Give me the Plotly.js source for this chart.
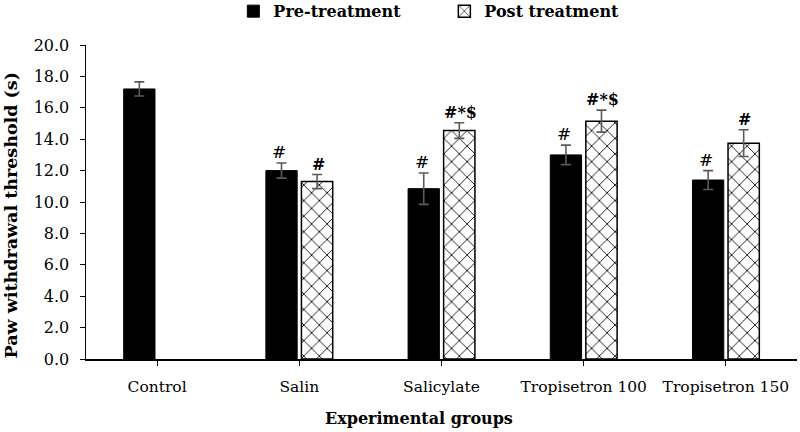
<!DOCTYPE html>
<html>
<head>
<meta charset="utf-8">
<script src="https://cdn.plot.ly/plotly-3.0.1.min.js"></script>
<style>html,body{margin:0;padding:0;background:#fff;}#chart{width:800px;height:432px;}</style>
</head>
<body>
<div id="chart"></div>
<script>
var groups = ["Control", "Salin", "Salicylate", "Tropisetron 100", "Tropisetron 150"];
var preValues = [17.2, 12.0, 10.85, 13.0, 11.4];
var preErrors = [0.45, 0.48, 1.0, 0.62, 0.6];
var postValues = [null, 11.3, 14.55, 15.15, 13.75];
var postErrors = [null, 0.45, 0.5, 0.7, 0.85];
var preMarks = ["", "#", "#", "#", "#"];
var postMarks = ["", "#", "#*$", "#*$", "#"];
var xTitle = "Experimental groups";
var yTitle = "Paw withdrawal threshold (s)";

var serif = "DejaVu Serif";
var errStyle = {type: "data", visible: true, color: "#5a5a5a", thickness: 1.6, width: 5};

var pre = {
  type: "bar", name: "Pre-treatment", x: groups, y: preValues,
  marker: {color: "#000000", line: {color: "#000000", width: 1}},
  error_y: Object.assign({array: preErrors}, errStyle)
};
var post = {
  type: "bar", name: "Post treatment", x: groups, y: postValues,
  marker: {color: "#ffffff", line: {color: "#000000", width: 1.5},
           pattern: {shape: "x", fgcolor: "#000000", bgcolor: "#ffffff", size: 11, solidity: 0.15}},
  error_y: Object.assign({array: postErrors}, errStyle)
};

var annotations = [];
groups.forEach(function (g, i) {
  if (preMarks[i]) annotations.push({x: g, y: preValues[i] + preErrors[i], xref: "x", yref: "y",
    text: preMarks[i], showarrow: false, xshift: -20, yanchor: "bottom", yshift: -1,
    font: {family: serif, size: 17, color: "#000"}});
  if (postMarks[i]) annotations.push({x: g, y: postValues[i] + postErrors[i], xref: "x", yref: "y",
    text: "<b>" + postMarks[i] + "</b>", showarrow: false, xshift: 19, yanchor: "bottom", yshift: -1,
    font: {family: serif, size: 16, color: "#000"}});
});
annotations.push({xref: "paper", yref: "paper", x: 0.468, y: -0.188, xanchor: "center", yanchor: "middle",
  text: "<b>" + xTitle + "</b>", showarrow: false, font: {family: serif, size: 16, color: "#000"}});
annotations.push({xref: "paper", yref: "paper", x: -0.1048, y: 0.4586, xanchor: "center", yanchor: "middle",
  textangle: -90, text: "<b>" + yTitle + "</b>", showarrow: false, font: {family: serif, size: 17.5, color: "#000"}});

var layout = {
  width: 800, height: 432,
  margin: {l: 86, r: 3, t: 45, b: 73, autoexpand: false},
  paper_bgcolor: "#fff", plot_bgcolor: "#fff",
  barmode: "group", bargap: 0.5, bargroupgap: 0.12,
  showlegend: true,
  legend: {orientation: "h", x: 0.504, xanchor: "center", yref: "container", y: 0.974, yanchor: "middle",
           font: {family: serif, size: 16, color: "#000", weight: "bold"}, itemwidth: 30,
           entrywidth: 166, entrywidthmode: "pixels", traceorder: "normal"},
  xaxis: {showline: true, linecolor: "#000", linewidth: 1.5, ticks: "outside", ticklen: 5,
          tickcolor: "#000", ticklabelstandoff: 8, tickfont: {family: serif, size: 15.5, color: "#000"}},
  yaxis: {range: [0, 20], dtick: 2, tickformat: ".1f", showgrid: false, zeroline: false,
          showline: true, linecolor: "#000", linewidth: 1.5, ticks: "outside", ticklen: 5,
          tickcolor: "#000", ticklabelstandoff: 7, tickfont: {family: serif, size: 16, color: "#000"}},
  annotations: annotations
};

Plotly.newPlot("chart", [pre, post], layout, {displayModeBar: false, staticPlot: true});
</script>
</body>
</html>
